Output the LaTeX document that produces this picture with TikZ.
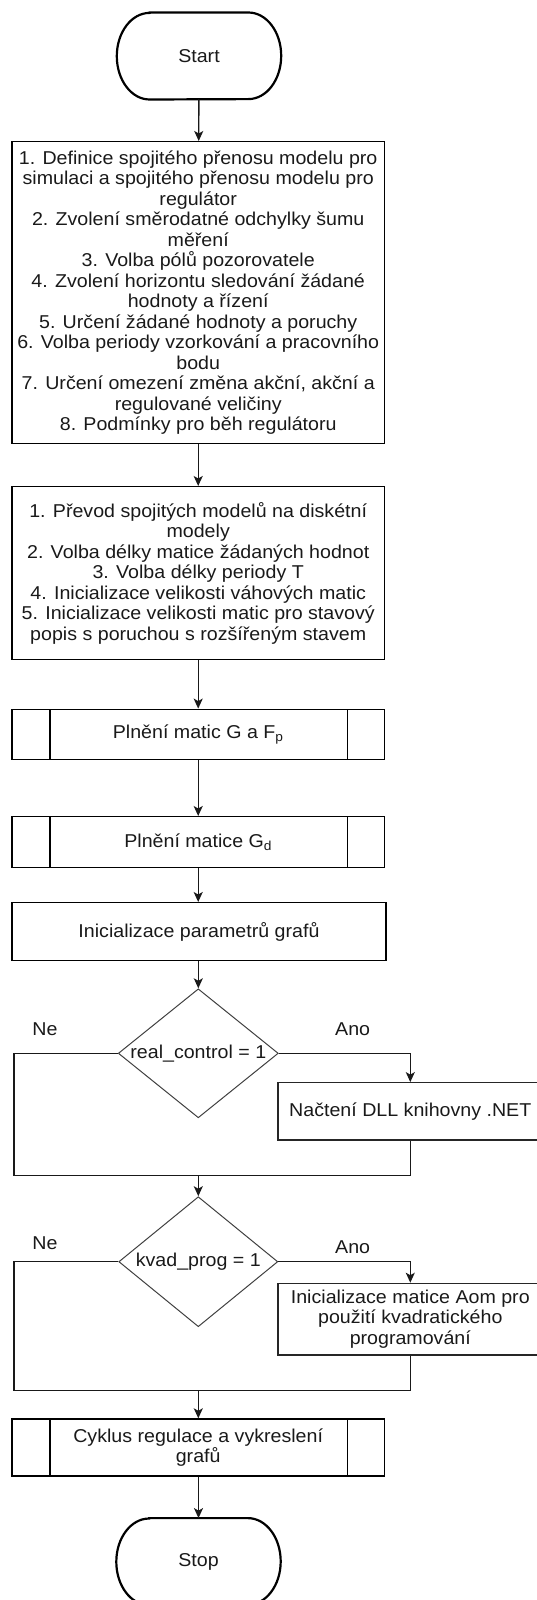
\documentclass[tikz,border=0pt]{standalone}
\usepackage{fontspec}
\setmainfont[FakeStretch=1.055]{Liberation Sans}
\usetikzlibrary{arrows.meta,calc,shapes.geometric}

% draws the elliptic-ended terminator outline around a named node
\newcommand{\termoutline}[1]{%
  \draw[termline] ($(#1.north west)+(32.8,0)$) -- ($(#1.north east)+(-32.8,0)$)
    arc[start angle=90,end angle=-90,x radius=32.8,y radius=43.3]
    -- ($(#1.south west)+(32.8,0)$)
    arc[start angle=270,end angle=90,x radius=32.8,y radius=43.3] -- cycle;}

\begin{document}
\begin{tikzpicture}[x=1pt,y=1pt,
  txt/.style={font=\fontsize{18.6}{20.5}\selectfont, text=black!90},
  terminal/.style={txt, draw=none, minimum width=164pt, minimum height=86.6pt, inner sep=0pt},
  termline/.style={line width=2.2pt, black},
  procbox/.style={txt, draw=black, line width=1.4pt, align=center, inner sep=0pt,
    minimum width=372.3pt},
  subproc/.style={procbox, path picture={
      \draw[line width=1.4pt] ([xshift=38pt]path picture bounding box.north west)
        -- ([xshift=38pt]path picture bounding box.south west);
      \draw[line width=1.4pt] ([xshift=-37pt]path picture bounding box.north east)
        -- ([xshift=-37pt]path picture bounding box.south east);}},
  sidebox/.style={txt, draw=black!85, line width=1.2pt, align=center, inner sep=0pt,
    minimum width=264.6pt},
  decision/.style={txt, diamond, draw=black!75, line width=1pt, inner sep=0pt,
    minimum width=160pt, minimum height=129pt, shape aspect=1.24},
  lbl/.style={txt},
  flow/.style={line width=1.4pt, black!90},
  arrow/.style={flow, -{Stealth[length=10pt,width=9pt,inset=2.5pt]}}
]
\useasboundingbox (0,0) rectangle (537,-1600);
\clip (0,0) rectangle (537,-1600);

% terminators
\node[terminal] (start) at (199,-56) {Start};
\termoutline{start}

% initial settings
\node[procbox, minimum height=301.6pt] (def) at (198.2,-292.5)
  {1. Definice spojitého přenosu modelu pro\\
   simulaci a spojitého přenosu modelu pro\\
   regulátor\\
   2. Zvolení směrodatné odchylky šumu\\
   měření\\
   3. Volba pólů pozorovatele\\
   4. Zvolení horizontu sledování žádané\\
   hodnoty a řízení\\
   5. Určení žádané hodnoty a poruchy\\
   6. Volba periody vzorkování a pracovního\\
   bodu\\
   7. Určení omezení změna akční, akční a\\
   regulované veličiny\\
   8. Podmínky pro běh regulátoru};

\node[procbox, minimum height=172.6pt] (conv) at (198.2,-573)
  {1. Převod spojitých modelů na diskétní\\
   modely\\
   2. Volba délky matice žádaných hodnot\\
   3. Volba délky periody T\\
   4. Inicializace velikosti váhových matic\\
   5. Inicializace velikosti matic pro stavový\\
   popis s poruchou s rozšířeným stavem};

\node[subproc, minimum height=50pt] (gfp) at (198.2,-734.3)
  {Plnění matic G a F\textsubscript{p}};
\node[subproc, minimum height=50.6pt] (gd) at (198.2,-842)
  {Plnění matice G\textsubscript{d}};
\node[procbox, minimum height=58pt, minimum width=374pt] (graf) at (199,-931.7)
  {Inicializace parametrů grafů};

% first decision
\node[decision] (d1) at (198.3,-1053.3) {real\_control = 1};
\node[sidebox, minimum height=57.3pt] (dll) at (410.3,-1111.35)
  {Načtení DLL knihovny .NET};
\node[lbl] (ne1) at (45,-1028.7) {Ne};
\node[lbl] (ano1) at (352.7,-1028.7) {Ano};
\coordinate (m1) at (198.3,-1175.7);
\coordinate (l1) at (14,-1175.7);

% second decision
\node[decision, minimum width=159pt, minimum height=130pt] (d2) at (198.3,-1261.7) {kvad\_prog = 1};
\node[sidebox, minimum height=71.7pt] (aom) at (410.3,-1319.15)
  {Inicializace matice Aom pro\\ použití kvadratického\\ programování};
\node[lbl] (ne2) at (45,-1243.3) {Ne};
\node[lbl] (ano2) at (352.7,-1246.7) {Ano};
\coordinate (m2) at (198.3,-1390.7);
\coordinate (l2) at (14,-1390.7);

\node[subproc, minimum height=57pt] (loop) at (198.2,-1447.5)
  {Cyklus regulace a vykreslení\\ grafů};

\node[terminal] (stop) at (198.5,-1561.6) {Stop};
\termoutline{stop}

% connectors
\draw[arrow] (start) -- (def);
\draw[arrow] (def) -- (conv);
\draw[arrow] (conv) -- (gfp);
\draw[arrow] (gfp) -- (gd);
\draw[arrow] (gd.south) -- (gd.south |- graf.north);
\draw[arrow] (graf.south -| d1.north) -- (d1.north);
\draw[arrow] (d1.east) -| (dll.north);
\draw[flow] (d1.west) -| (l1) -- (m1);
\draw[flow] (dll.south) |- (m1);
\draw[arrow] (m1) -- (d2.north);
\draw[arrow] (d2.east) -| (aom.north);
\draw[flow] (d2.west) -| (l2) -- (m2);
\draw[flow] (aom.south) |- (m2);
\draw[arrow] (m2) -- (m2 |- loop.north);
\draw[arrow] (loop.south -| stop.north) -- (stop.north);
\end{tikzpicture}
\end{document}
